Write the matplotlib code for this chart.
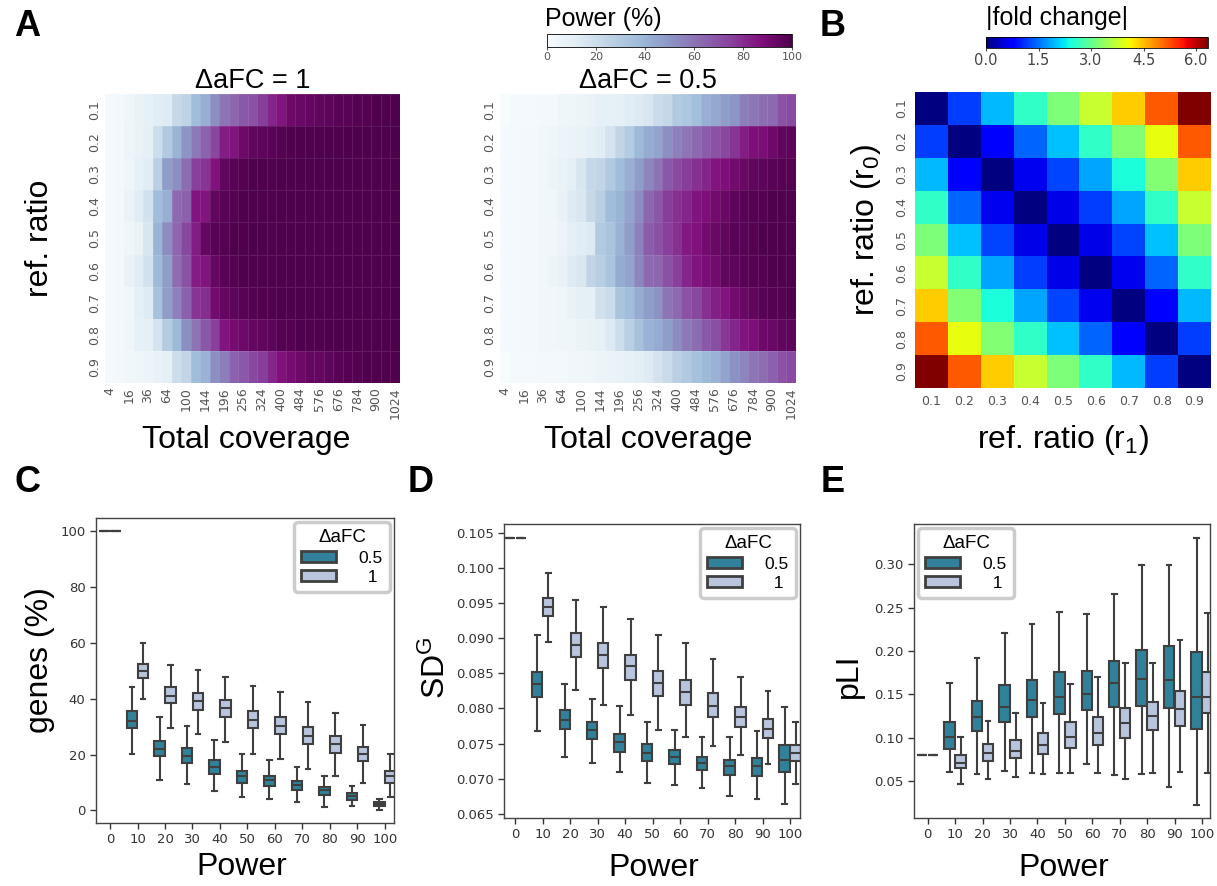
import numpy as np
import matplotlib
matplotlib.use('Agg')
import matplotlib.pyplot as plt
from matplotlib.patches import Patch

plt.rcParams['font.family'] = ['Liberation Sans', 'DejaVu Sans']
plt.rcParams['mathtext.fontset'] = 'custom'
plt.rcParams['mathtext.rm'] = 'Liberation Sans'
plt.rcParams['mathtext.it'] = 'Liberation Sans:italic'

# ---------------- data ----------------
coverage = [4, 9, 16, 25, 36, 49, 64, 81, 100, 121, 144, 169, 196, 225, 256, 289,
            324, 361, 400, 441, 484, 529, 576, 625, 676, 729, 784, 841, 900, 961, 1024]
ref_ratios = ['0.1', '0.2', '0.3', '0.4', '0.5', '0.6', '0.7', '0.8', '0.9']

power_afc1 = [
    [2, 3, 5, 8, 9, 12, 13, 22, 25, 37, 42, 52, 60, 64, 68, 70, 76, 82, 86, 92, 93, 94, 95, 96, 97, 97, 98, 98, 99, 99, 99],
    [2, 3, 6, 8, 10, 20, 30, 40, 50, 58, 65, 73, 84, 86, 92, 95, 96, 97, 98, 99, 99, 99, 99, 99, 99, 100, 100, 100, 100, 100, 100],
    [2, 3, 5, 9, 12, 27, 48, 52, 62, 75, 78, 87, 95, 97, 98, 99, 99, 99, 100, 100, 100, 100, 100, 100, 100, 100, 100, 100, 100, 100, 100],
    [2, 3, 7, 12, 18, 37, 42, 63, 66, 86, 86, 95, 97, 98, 99, 99, 100, 100, 100, 100, 100, 100, 100, 100, 100, 100, 100, 100, 100, 100, 100],
    [2, 3, 5, 8, 16, 40, 53, 64, 73, 84, 94, 97, 98, 99, 99, 100, 100, 100, 100, 100, 100, 100, 100, 100, 100, 100, 100, 100, 100, 100, 100],
    [2, 3, 8, 12, 18, 38, 48, 62, 70, 84, 86, 94, 97, 98, 99, 99, 100, 100, 100, 100, 100, 100, 100, 100, 100, 100, 100, 100, 100, 100, 100],
    [2, 3, 4, 10, 13, 34, 48, 56, 66, 78, 80, 91, 94, 96, 97, 98, 99, 99, 100, 100, 100, 100, 100, 100, 100, 100, 100, 100, 100, 100, 100],
    [2, 3, 5, 9, 10, 17, 29, 38, 52, 60, 68, 75, 86, 90, 92, 94, 95, 96, 98, 98, 99, 99, 99, 100, 100, 100, 100, 100, 100, 100, 100],
    [2, 3, 4, 5, 6, 8, 10, 20, 24, 37, 41, 52, 57, 65, 68, 73, 76, 82, 87, 90, 92, 94, 94, 96, 97, 98, 98, 99, 99, 99, 99],
]

power_afc05 = [
    [1, 2, 2, 2, 3, 3, 5, 5, 6, 7, 9, 9, 10, 12, 14, 16, 21, 23, 30, 32, 36, 42, 44, 48, 50, 57, 59, 62, 63, 70, 72],
    [2, 2, 3, 3, 4, 5, 6, 7, 8, 10, 12, 17, 24, 29, 38, 43, 46, 52, 56, 60, 63, 67, 70, 73, 78, 84, 88, 89, 92, 95, 96],
    [2, 2, 3, 3, 4, 6, 8, 10, 16, 23, 24, 30, 37, 42, 48, 55, 60, 68, 72, 76, 79, 82, 86, 88, 91, 93, 95, 96, 97, 98, 98],
    [2, 2, 3, 3, 4, 4, 8, 13, 15, 22, 27, 37, 40, 46, 53, 64, 68, 76, 79, 82, 86, 88, 91, 93, 96, 97, 98, 98, 99, 99, 99],
    [2, 2, 3, 3, 4, 4, 6, 10, 12, 14, 30, 33, 41, 48, 56, 67, 70, 75, 79, 85, 87, 91, 93, 95, 97, 97, 98, 99, 99, 99, 99],
    [2, 2, 3, 3, 4, 6, 8, 13, 15, 24, 28, 33, 43, 46, 55, 63, 64, 70, 75, 82, 86, 89, 91, 95, 96, 97, 98, 98, 99, 99, 99],
    [2, 2, 3, 3, 4, 4, 5, 8, 10, 10, 18, 21, 33, 37, 43, 48, 51, 60, 63, 70, 73, 79, 83, 86, 91, 93, 95, 97, 98, 98, 99],
    [2, 2, 3, 3, 4, 4, 5, 5, 7, 8, 9, 14, 20, 27, 35, 41, 43, 48, 53, 58, 62, 68, 71, 77, 82, 86, 88, 92, 93, 95, 96],
    [1, 2, 2, 2, 3, 3, 3, 4, 4, 5, 6, 7, 8, 9, 11, 13, 17, 21, 27, 30, 35, 38, 41, 46, 51, 55, 59, 62, 66, 70, 72],
]

fold_change = [
    [0.00, 1.17, 1.95, 2.58, 3.17, 3.75, 4.39, 5.17, 6.34],
    [1.17, 0.00, 0.78, 1.42, 2.00, 2.58, 3.22, 4.00, 5.17],
    [1.95, 0.78, 0.00, 0.64, 1.22, 1.81, 2.44, 3.22, 4.39],
    [2.58, 1.42, 0.64, 0.00, 0.58, 1.17, 1.81, 2.58, 3.75],
    [3.17, 2.00, 1.22, 0.58, 0.00, 0.58, 1.22, 2.00, 3.17],
    [3.75, 2.58, 1.81, 1.17, 0.58, 0.00, 0.64, 1.42, 2.58],
    [4.39, 3.22, 2.44, 1.81, 1.22, 0.64, 0.00, 0.78, 1.95],
    [5.17, 4.00, 3.22, 2.58, 2.00, 1.42, 0.78, 0.00, 1.17],
    [6.34, 5.17, 4.39, 3.75, 3.17, 2.58, 1.95, 1.17, 0.00],
]

power_levels = ['0', '10', '20', '30', '40', '50', '60', '70', '80', '90', '100']

# Panel C: genes (%)  -- [power 0 ... 100]
c05_med = [100, 32.0, 22.1, 19.6, 15.5, 12.3, 10.8, 9.1, 7.2, 5.1, 2.3]
c05_q1 = [100, 29.5, 19.4, 17.0, 13.1, 10.0, 8.8, 7.4, 5.7, 3.9, 1.7]
c05_q3 = [100, 35.6, 25.0, 22.5, 18.0, 14.2, 12.5, 10.6, 8.5, 6.1, 2.9]
c05_lo = [100, 20.2, 10.9, 9.3, 6.8, 4.8, 4.1, 3.2, 1.4, 1.7, 0.2]
c05_hi = [100, 44.4, 33.5, 30.1, 25.3, 20.3, 18.2, 15.7, 12.5, 8.6, 4.1]
c1_med = [100, 49.8, 41.1, 39.1, 36.6, 32.5, 30.3, 26.8, 23.7, 20.2, 12.3]
c1_q1 = [100, 47.3, 38.4, 36.1, 33.5, 29.5, 27.5, 23.9, 20.7, 17.6, 10.0]
c1_q3 = [100, 52.6, 44.1, 42.1, 39.5, 35.6, 33.5, 29.9, 26.6, 22.9, 14.3]
c1_lo = [100, 39.9, 29.6, 27.5, 24.7, 20.2, 18.4, 14.9, 12.3, 9.8, 4.8]
c1_hi = [100, 60.1, 52.3, 50.2, 47.8, 44.7, 42.5, 38.8, 34.9, 30.7, 20.2]

# Panel D: SD^G
d05_med = [0.1042, 0.08348, 0.07832, 0.07699, 0.07519, 0.07372, 0.07315, 0.07220, 0.07178, 0.07178, 0.07268]
d05_q1 = [0.1042, 0.08163, 0.07704, 0.07562, 0.07377, 0.07254, 0.07211, 0.07130, 0.07055, 0.07036, 0.07092]
d05_q3 = [0.1042, 0.08519, 0.07979, 0.07813, 0.07637, 0.07490, 0.07410, 0.07315, 0.07268, 0.07296, 0.07486]
d05_lo = [0.1042, 0.0768, 0.07315, 0.0722, 0.07092, 0.06936, 0.06917, 0.06874, 0.06756, 0.06718, 0.06642]
d05_hi = [0.1042, 0.0904, 0.08348, 0.0813, 0.08035, 0.07813, 0.07699, 0.0760, 0.0759, 0.07685, 0.08017]
d1_med = [0.1042, 0.09443, 0.08907, 0.0876, 0.08599, 0.08362, 0.08234, 0.0803, 0.07879, 0.07713, 0.07372]
d1_q1 = [0.1042, 0.0932, 0.08732, 0.08571, 0.0841, 0.08173, 0.0805, 0.07884, 0.07737, 0.07585, 0.07254]
d1_q3 = [0.1042, 0.09566, 0.09069, 0.08926, 0.08765, 0.08528, 0.0841, 0.08216, 0.08026, 0.07846, 0.07486]
d1_lo = [0.1042, 0.0894, 0.08263, 0.0805, 0.07912, 0.07694, 0.07595, 0.07472, 0.07344, 0.07211, 0.06931]
d1_hi = [0.1042, 0.0993, 0.09542, 0.09448, 0.09268, 0.0905, 0.08931, 0.08708, 0.08453, 0.08244, 0.07813]

# Panel E: pLI
e05_med = [0.080, 0.1009, 0.1241, 0.1356, 0.1434, 0.1472, 0.1499, 0.1627, 0.1677, 0.1665, 0.1472]
e05_q1 = [0.080, 0.0874, 0.1075, 0.1183, 0.1237, 0.1268, 0.1314, 0.1353, 0.1360, 0.1337, 0.1102]
e05_q3 = [0.080, 0.1183, 0.1422, 0.1603, 0.1669, 0.1754, 0.1773, 0.1885, 0.2012, 0.2055, 0.1989]
e05_lo = [0.080, 0.0600, 0.0585, 0.0612, 0.0596, 0.0596, 0.0700, 0.0573, 0.0585, 0.0431, 0.0226]
e05_hi = [0.080, 0.1630, 0.1916, 0.2205, 0.2313, 0.2448, 0.2433, 0.2664, 0.2992, 0.2996, 0.3309]
e1_med = [0.080, 0.0712, 0.0824, 0.0847, 0.0913, 0.1009, 0.1059, 0.1167, 0.1248, 0.1333, 0.1472]
e1_q1 = [0.080, 0.0654, 0.0731, 0.0770, 0.0813, 0.0878, 0.0917, 0.0994, 0.1086, 0.1129, 0.1283]
e1_q3 = [0.080, 0.0797, 0.0921, 0.0978, 0.1048, 0.1179, 0.1237, 0.1341, 0.1414, 0.1534, 0.1762]
e1_lo = [0.080, 0.0461, 0.0519, 0.0550, 0.0577, 0.0596, 0.0596, 0.0527, 0.0596, 0.0600, 0.0596]
e1_hi = [0.080, 0.1009, 0.1194, 0.1279, 0.1403, 0.1615, 0.1704, 0.1858, 0.1858, 0.2128, 0.2444]

TEAL = '#31819b'
LIGHT = '#b9c5dd'
EDGE = '#3f3f3f'
TICKGRAY = '#555555'
BIG = 23

W, H = 1217, 886
fig = plt.figure(figsize=(W / 100, H / 100), dpi=100)


def rect(x0, y0, x1, y1):
    return [x0 / W, 1 - y1 / H, (x1 - x0) / W, (y1 - y0) / H]


def ftext(x, y, s, **kw):
    fig.text(x / W, 1 - y / H, s, **kw)


# ---------------- Panel A ----------------
def draw_power(ax, data, title):
    arr = np.array(data, dtype=float)
    mesh = ax.pcolormesh(arr, cmap='BuPu', vmin=0, vmax=100,
                         edgecolors=(1, 1, 1, 0.10), linewidth=0.4)
    ax.set_xlim(0, arr.shape[1])
    ax.set_ylim(arr.shape[0], 0)
    ax.set_xticks(np.arange(0, arr.shape[1], 2) + 0.5)
    ax.set_xticklabels([str(c) for c in coverage[::2]], rotation=90,
                       family='DejaVu Sans')
    ax.set_yticks(np.arange(arr.shape[0]) + 0.5)
    ax.set_yticklabels(ref_ratios, rotation=90, va='center', family='DejaVu Sans')
    ax.tick_params(length=0, labelsize=9, colors=TICKGRAY, pad=3)
    for s in ax.spines.values():
        s.set_visible(False)
    ax.set_title(title, fontsize=19.5, pad=4)
    return mesh


axA1 = fig.add_axes(rect(105, 94, 400, 383))
draw_power(axA1, power_afc1, '\u0394aFC = 1')
axA2 = fig.add_axes(rect(500, 94, 796, 383))
meshA = draw_power(axA2, power_afc05, '\u0394aFC = 0.5')

caxA = fig.add_axes(rect(547, 34, 792, 47))
cbA = fig.colorbar(meshA, cax=caxA, orientation='horizontal', ticks=[0, 20, 40, 60, 80, 100])
caxA.tick_params(labelsize=8, colors=TICKGRAY, length=2.5, pad=1)
for t in caxA.get_xticklabels():
    t.set_family('DejaVu Sans')
cbA.outline.set_linewidth(0.6)
ftext(603, 19, 'Power (%)', fontsize=18, ha='center', va='center')

ftext(246, 440, 'Total coverage', fontsize=BIG, ha='center', va='center')
ftext(648, 440, 'Total coverage', fontsize=BIG, ha='center', va='center')
ftext(40, 238, 'ref. ratio', fontsize=BIG, ha='center', va='center', rotation=90)

# ---------------- Panel B ----------------
axB = fig.add_axes(rect(915, 92, 1211, 388))
fc = np.array(fold_change)
meshB = axB.pcolormesh(fc, cmap='jet', vmin=0, vmax=6.34)
axB.set_xlim(0, 9)
axB.set_ylim(9, 0)
axB.set_xticks(np.arange(9) + 0.5)
axB.set_xticklabels(ref_ratios, family='DejaVu Sans')
axB.set_yticks(np.arange(9) + 0.5)
axB.set_yticklabels(ref_ratios, rotation=90, va='center', family='DejaVu Sans')
axB.tick_params(length=0, labelsize=9, colors=TICKGRAY, pad=5)
for s in axB.spines.values():
    s.set_visible(False)

caxB = fig.add_axes(rect(986, 37, 1208, 48))
cbB = fig.colorbar(meshB, cax=caxB, orientation='horizontal', ticks=[0, 1.5, 3.0, 4.5, 6.0])
cbB.set_ticklabels(['0.0', '1.5', '3.0', '4.5', '6.0'])
caxB.tick_params(labelsize=10.5, colors='#444444', length=2.5, pad=1)
for t in caxB.get_xticklabels():
    t.set_family('DejaVu Sans')
cbB.outline.set_linewidth(0.6)
ftext(1057, 18, '|fold change|', fontsize=18, ha='center', va='center')
ftext(866, 230, r'ref. ratio (r$_{\rm 0}$)', fontsize=BIG, ha='center', va='center', rotation=90)
ftext(1063, 440, r'ref. ratio (r$_{\rm 1}$)', fontsize=BIG, ha='center', va='center')


# ---------------- Box panels ----------------
def make_stats(med, q1, q3, lo, hi):
    return [dict(med=m, q1=a, q3=b, whislo=l, whishi=h, fliers=[])
            for m, a, b, l, h in zip(med, q1, q3, lo, hi)]


def draw_boxes(ax, s05, s1, xlim, ylim, yticks, yfmt, legloc):
    pos = np.arange(len(power_levels))
    common = dict(widths=0.38, patch_artist=True, showfliers=False,
                  medianprops=dict(color=EDGE, linewidth=1.5),
                  whiskerprops=dict(color=EDGE, linewidth=1.5),
                  capprops=dict(color=EDGE, linewidth=1.5),
                  capwidths=0.17, manage_ticks=False)
    ax.bxp(s05, positions=pos - 0.2,
           boxprops=dict(facecolor=TEAL, edgecolor=EDGE, linewidth=1.5), **common)
    ax.bxp(s1, positions=pos + 0.2,
           boxprops=dict(facecolor=LIGHT, edgecolor=EDGE, linewidth=1.5), **common)
    ax.set_xlim(*xlim)
    ax.set_ylim(*ylim)
    ax.set_xticks(pos)
    ax.set_xticklabels(power_levels, family='DejaVu Sans')
    ax.set_yticks(yticks)
    ax.set_yticklabels([yfmt.format(v) for v in yticks], family='DejaVu Sans')
    ax.tick_params(labelsize=9.5, colors='#333333', length=4, width=1)
    for s in ax.spines.values():
        s.set_color('#444444')
        s.set_linewidth(1.0)
    handles = [Patch(facecolor=TEAL, edgecolor=EDGE, linewidth=2, label='0.5'),
               Patch(facecolor=LIGHT, edgecolor=EDGE, linewidth=2, label='  1')]
    leg = ax.legend(handles=handles, title='\u0394aFC', loc=legloc, fontsize=12.5,
                    title_fontsize=13.5, frameon=True, fancybox=True,
                    edgecolor='#cccccc', framealpha=1, handlelength=2.0,
                    handleheight=0.6, borderaxespad=0.25, labelspacing=0.25,
                    handletextpad=1.3)
    leg.get_frame().set_linewidth(2.5)


axC = fig.add_axes(rect(96, 518, 394, 823))
draw_boxes(axC, make_stats(c05_med, c05_q1, c05_q3, c05_lo, c05_hi),
           make_stats(c1_med, c1_q1, c1_q3, c1_lo, c1_hi),
           (-0.51, 10.33), (-4.5, 104.8), [0, 20, 40, 60, 80, 100], '{:.0f}', 'upper right')

axD = fig.add_axes(rect(504, 524, 800, 818))
draw_boxes(axD, make_stats(d05_med, d05_q1, d05_q3, d05_lo, d05_hi),
           make_stats(d1_med, d1_q1, d1_q3, d1_lo, d1_hi),
           (-0.41, 10.36), (0.06443, 0.10623),
           [0.065, 0.070, 0.075, 0.080, 0.085, 0.090, 0.095, 0.100, 0.105], '{:.3f}', 'upper right')

axE = fig.add_axes(rect(914, 524, 1210, 818))
draw_boxes(axE, make_stats(e05_med, e05_q1, e05_q3, e05_lo, e05_hi),
           make_stats(e1_med, e1_q1, e1_q3, e1_lo, e1_hi),
           (-0.5, 10.29), (0.00718, 0.3467),
           [0.05, 0.10, 0.15, 0.20, 0.25, 0.30], '{:.2f}', 'upper left')

ftext(40, 660, 'genes (%)', fontsize=BIG, ha='center', va='center', rotation=90)
ftext(436, 668, r'SD$^{\rm G}$', fontsize=BIG, ha='center', va='center', rotation=90)
ftext(849, 676, 'pLI', fontsize=BIG, ha='center', va='center', rotation=90)
ftext(242, 867, 'Power', fontsize=BIG, ha='center', va='center')
ftext(654, 868, 'Power', fontsize=BIG, ha='center', va='center')
ftext(1064, 868, 'Power', fontsize=BIG, ha='center', va='center')

# panel letters
for letter, x, y in [('A', 27, 27), ('B', 833, 27), ('C', 27, 482), ('D', 421, 482), ('E', 833, 482)]:
    ftext(x, y, letter, fontsize=26, weight='bold', ha='center', va='center')

fig.savefig('out.png', dpi=100)
